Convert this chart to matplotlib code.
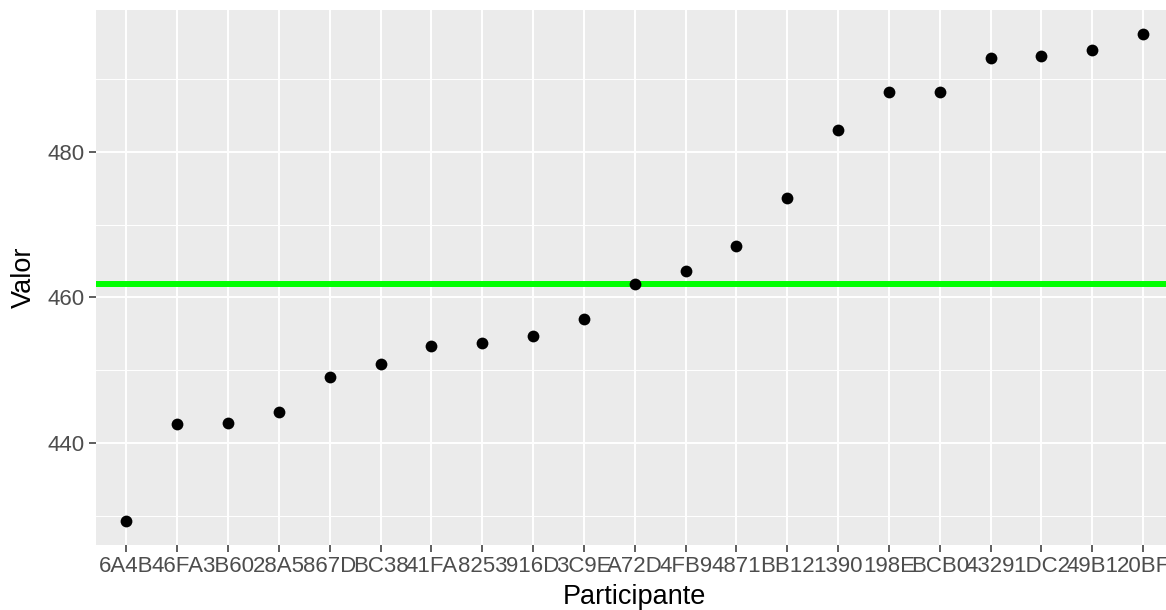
import numpy as np
import matplotlib as mpl
mpl.use('Agg')
import matplotlib.pyplot as plt

plt.rcParams['font.family'] = ['Liberation Sans', 'DejaVu Sans']

# Participants (sorted by value) and their values
participantes = ['6A4B', '46FA', '3B60', '28A5', '867D', 'BC38', '41FA',
                 '8253', '916D', '3C9E', 'A72D', '4FB9', '4871', 'BB12',
                 '1390', '198E', 'BCB0', '4329', '1DC2', '49B1', '20BF']
valores = [429.3, 442.6, 442.75, 444.3, 449.1, 450.9, 453.3,
           453.7, 454.7, 457.0, 461.8, 463.6, 467.1, 473.7,
           483.0, 488.2, 488.2, 492.9, 493.2, 494.0, 496.2]
referencia = np.median(valores)

W, H = 1166, 610
fig = plt.figure(figsize=(W / 100, H / 100), dpi=100)

# panel spans beyond the right edge (cropped like the reference)
left, right, top, bottom = 96, 1173.5, 10, 545
ax = fig.add_axes([left / W, 1 - bottom / H, (right - left) / W, (bottom - top) / H])
ax.set_facecolor('#EBEBEB')
for s in ax.spines.values():
    s.set_visible(False)

x = np.arange(1, len(participantes) + 1)

# grid
ymin = min(valores); ymax = max(valores)
pad = (ymax - ymin) * 0.05
ax.set_ylim(ymin - pad, ymax + pad)
ax.set_xlim(0.4, len(participantes) + 0.6)
for yv in [430, 450, 470, 490]:
    ax.axhline(yv, color='white', lw=0.7, zorder=0)
for yv in [440, 460, 480]:
    ax.axhline(yv, color='white', lw=1.4, zorder=0)
for xv in x:
    ax.axvline(xv, color='white', lw=1.4, zorder=0)

ax.axhline(referencia, color='#00FF00', lw=4.3, zorder=1)
ax.scatter(x, valores, s=72, color='black', zorder=3, linewidths=0)

ax.set_xticks(x)
ax.set_xticklabels(participantes)
ax.set_yticks([440, 460, 480])
ax.tick_params(axis='both', colors='#333333', length=5, width=1.1,
               labelsize=16, labelcolor='#4D4D4D', pad=3)

ax.set_xlabel('Participante', fontsize=19.5, color='black', labelpad=5)
ax.set_ylabel('Valor', fontsize=19.5, color='black', labelpad=8)

fig.savefig('out.png', dpi=100)
